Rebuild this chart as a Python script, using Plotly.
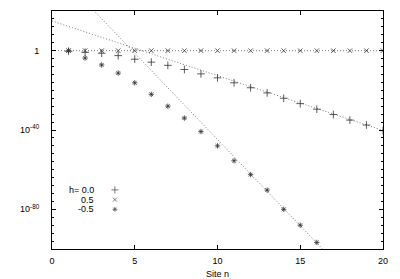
import plotly.graph_objects as go

# ---- data ----
sites = list(range(1, 21))
# log10 of the values
log_h00 = [-0.3, -0.8, -1.3, -2.5, -4.3, -5.8, -7.4, -9.5, -11.7, -13.7,
           -16.2, -18.7, -21.3, -24.0, -26.7, -29.5, -32.2, -35.0, -37.5, -40.3]
log_h05 = [0.0] * 20
sites_m05 = list(range(1, 17))
log_hm05 = [0.0, -3.7, -7.2, -11.3, -16.2, -22.0, -28.0, -34.0, -40.8, -48.0,
            -55.5, -62.5, -70.3, -80.0, -88.0, -96.7]
# asymptotic fit lines: log10 = a + b*n
fit_h00 = (15.0, -2.76)
fit_h05 = (0.0, 0.0)
fit_hm05 = (42.2, -8.7)
fit_n = [0, 20]

legend_labels = ["h= 0.0", "0.5", "-0.5"]
x_ticks = [0, 5, 10, 15, 20]
y_major_exp = [20, 0, -20, -40, -60, -80, -100]
y_major_text = ["", "1", "", "10<sup>-40</sup>", "", "10<sup>-80</sup>", ""]
y_minor_exp = [e for e in range(20, -101, -4)]

def pw(v):
    return [10.0 ** e for e in v]

FONT = "Liberation Sans, Arial, sans-serif"
MK = "#333333"
LINE = "#7a7a7a"

fig = go.Figure()

for a, b in (fit_h00, fit_h05, fit_hm05):
    fig.add_trace(go.Scatter(
        x=fit_n, y=pw([a + b * n for n in fit_n]), mode="lines",
        line=dict(color=LINE, width=1, dash="1px,2px"), showlegend=False,
        hoverinfo="skip"))

symbols = ["cross-thin-open", "x-thin-open", "asterisk-open"]
sizes = [5.5, 4.5, 4.5]
series = [(sites, log_h00), (sites, log_h05), (sites_m05, log_hm05)]
for (xs, ys), sym, sz in zip(series, symbols, sizes):
    fig.add_trace(go.Scatter(
        x=xs, y=pw(ys), mode="markers",
        marker=dict(symbol=sym, size=sz, color=MK, line=dict(color=MK, width=0.8)),
        showlegend=False))

# legend keys (layout positions on a hidden overlay axis)
key_x = 0.19
key_y = [0.2485, 0.2075, 0.1668]
for sym, sz, ky in zip(symbols, sizes, key_y):
    fig.add_trace(go.Scatter(
        x=[key_x], y=[ky], xaxis="x2", yaxis="y2", mode="markers",
        marker=dict(symbol=sym, size=sz - 0.5, color="#555555",
                    line=dict(color="#555555", width=0.8)),
        showlegend=False, hoverinfo="skip"))
for lab, ky in zip(legend_labels, key_y):
    fig.add_annotation(x=0.131, y=ky, xref="paper", yref="paper", text=lab,
                       showarrow=False, xanchor="right", yanchor="middle",
                       borderpad=0,
                       font=dict(family=FONT, size=9, color="black"))

# the page body adds an 8px offset, so the figure is drawn 8px smaller
fig.update_layout(
    width=392, height=271,
    margin=dict(l=44, r=17, t=3, b=30, autoexpand=False),
    paper_bgcolor="white", plot_bgcolor="white",
    font=dict(family=FONT, size=9, color="black"),
    showlegend=False,
    xaxis=dict(range=[0, 20], tickvals=x_ticks, ticks="inside", ticklen=4,
               showline=True, linecolor="black", linewidth=1, mirror="ticks",
               showgrid=False, zeroline=False, tickcolor="black",
               automargin=False, ticklabelstandoff=3,
               title=dict(text="Site n", standoff=10, font=dict(size=9))),
    yaxis=dict(type="log", range=[-100, 20],
               tickvals=pw(y_major_exp), ticktext=y_major_text,
               ticks="inside", ticklen=4, tickcolor="black",
               minor=dict(tickvals=pw(y_minor_exp), ticks="inside", ticklen=2,
                          tickcolor="black", showgrid=False),
               showline=True, linecolor="black", linewidth=1, mirror="ticks",
               showgrid=False, zeroline=False, automargin=False,
               ticklabelstandoff=10),
    xaxis2=dict(range=[0, 1], overlaying="x", visible=False, fixedrange=True),
    yaxis2=dict(range=[0, 1], overlaying="y", visible=False, fixedrange=True),
)

fig.write_html("out.html")
